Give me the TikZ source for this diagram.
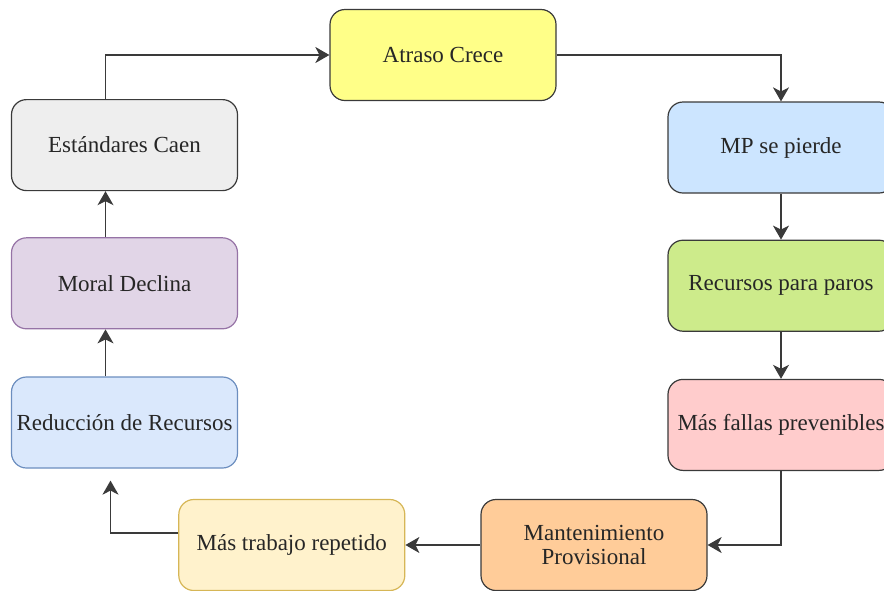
\documentclass[tikz,border=0pt]{standalone}
\usepackage{fontspec}
\setmainfont{Liberation Serif}
\usepackage{xcolor}
\usetikzlibrary{arrows.meta}
\usetikzlibrary{positioning}

\definecolor{boxline}{HTML}{3A3A3A}
\definecolor{flowline}{HTML}{3A3A3A}
\definecolor{atrasofill}{HTML}{FFFF88}
\definecolor{mpfill}{HTML}{CCE5FF}
\definecolor{parosfill}{HTML}{CDEB8B}
\definecolor{fallasfill}{HTML}{FFCCCC}
\definecolor{provfill}{HTML}{FFCC99}
\definecolor{repfill}{HTML}{FFF2CC}
\definecolor{repline}{HTML}{D6B656}
\definecolor{redfill}{HTML}{DAE8FC}
\definecolor{redline}{HTML}{6C8EBF}
\definecolor{moralfill}{HTML}{E1D5E7}
\definecolor{moralline}{HTML}{9673A6}
\definecolor{estfill}{HTML}{EEEEEE}

\tikzset{
    stage/.style={draw=boxline, line width=1.2pt, rounded corners=15pt,
        minimum width=226pt, minimum height=91pt, inner sep=2pt,
        align=center, text=black!85, font=\fontsize{23}{24}\selectfont},
    flow/.style={draw=flowline, line width=1.3pt,
        -{Stealth[length=14pt, width=16pt, inset=4pt]}},
}

\begin{document}
\begin{tikzpicture}[x=1pt, y=-1pt]
    \useasboundingbox (0,0) rectangle (884,590);
    \clip (0,0) rectangle (884,590);

    \node[stage, fill=atrasofill] (atraso) at (443,55) {Atraso Crece};
    \node[stage, fill=mpfill] (mp) at (781,147.5) {MP se pierde};
    \node[stage, fill=parosfill, below=46pt of mp] (paros) {Recursos para paros};
    \node[stage, fill=fallasfill, below=47pt of paros] (fallas) {Más fallas prevenibles};
    \node[stage, fill=provfill] (prov) at (594,545) {Mantenimiento\\Provisional};
    \node[stage, fill=repfill, draw=repline, left=75pt of prov] (repetido) {Más trabajo repetido};
    \node[stage, fill=redfill, draw=redline] (reduccion) at (124.5,422.5) {Reducción de Recursos};
    \node[stage, fill=moralfill, draw=moralline, above=47pt of reduccion] (moral) {Moral Declina};
    \node[stage, fill=estfill, above=46pt of moral] (estandares) {Estándares Caen};

    \draw[flow] ([xshift=-19pt]estandares.north) |- (atraso.west);
    \draw[flow] (atraso.east) -| (mp.north);
    \draw[flow] (mp) -- (paros);
    \draw[flow] (paros) -- (fallas);
    \draw[flow] (fallas.south) |- (prov.east);
    \draw[flow] (prov) -- (repetido);
    \draw[flow, shorten >=12pt] ([yshift=12pt]repetido.west) -| ([xshift=-14pt]reduccion.south);
    \draw[flow] ([xshift=-19pt]reduccion.north) -- ([xshift=-19pt]moral.south);
    \draw[flow] ([xshift=-19pt]moral.north) -- ([xshift=-19pt]estandares.south);
\end{tikzpicture}
\end{document}
